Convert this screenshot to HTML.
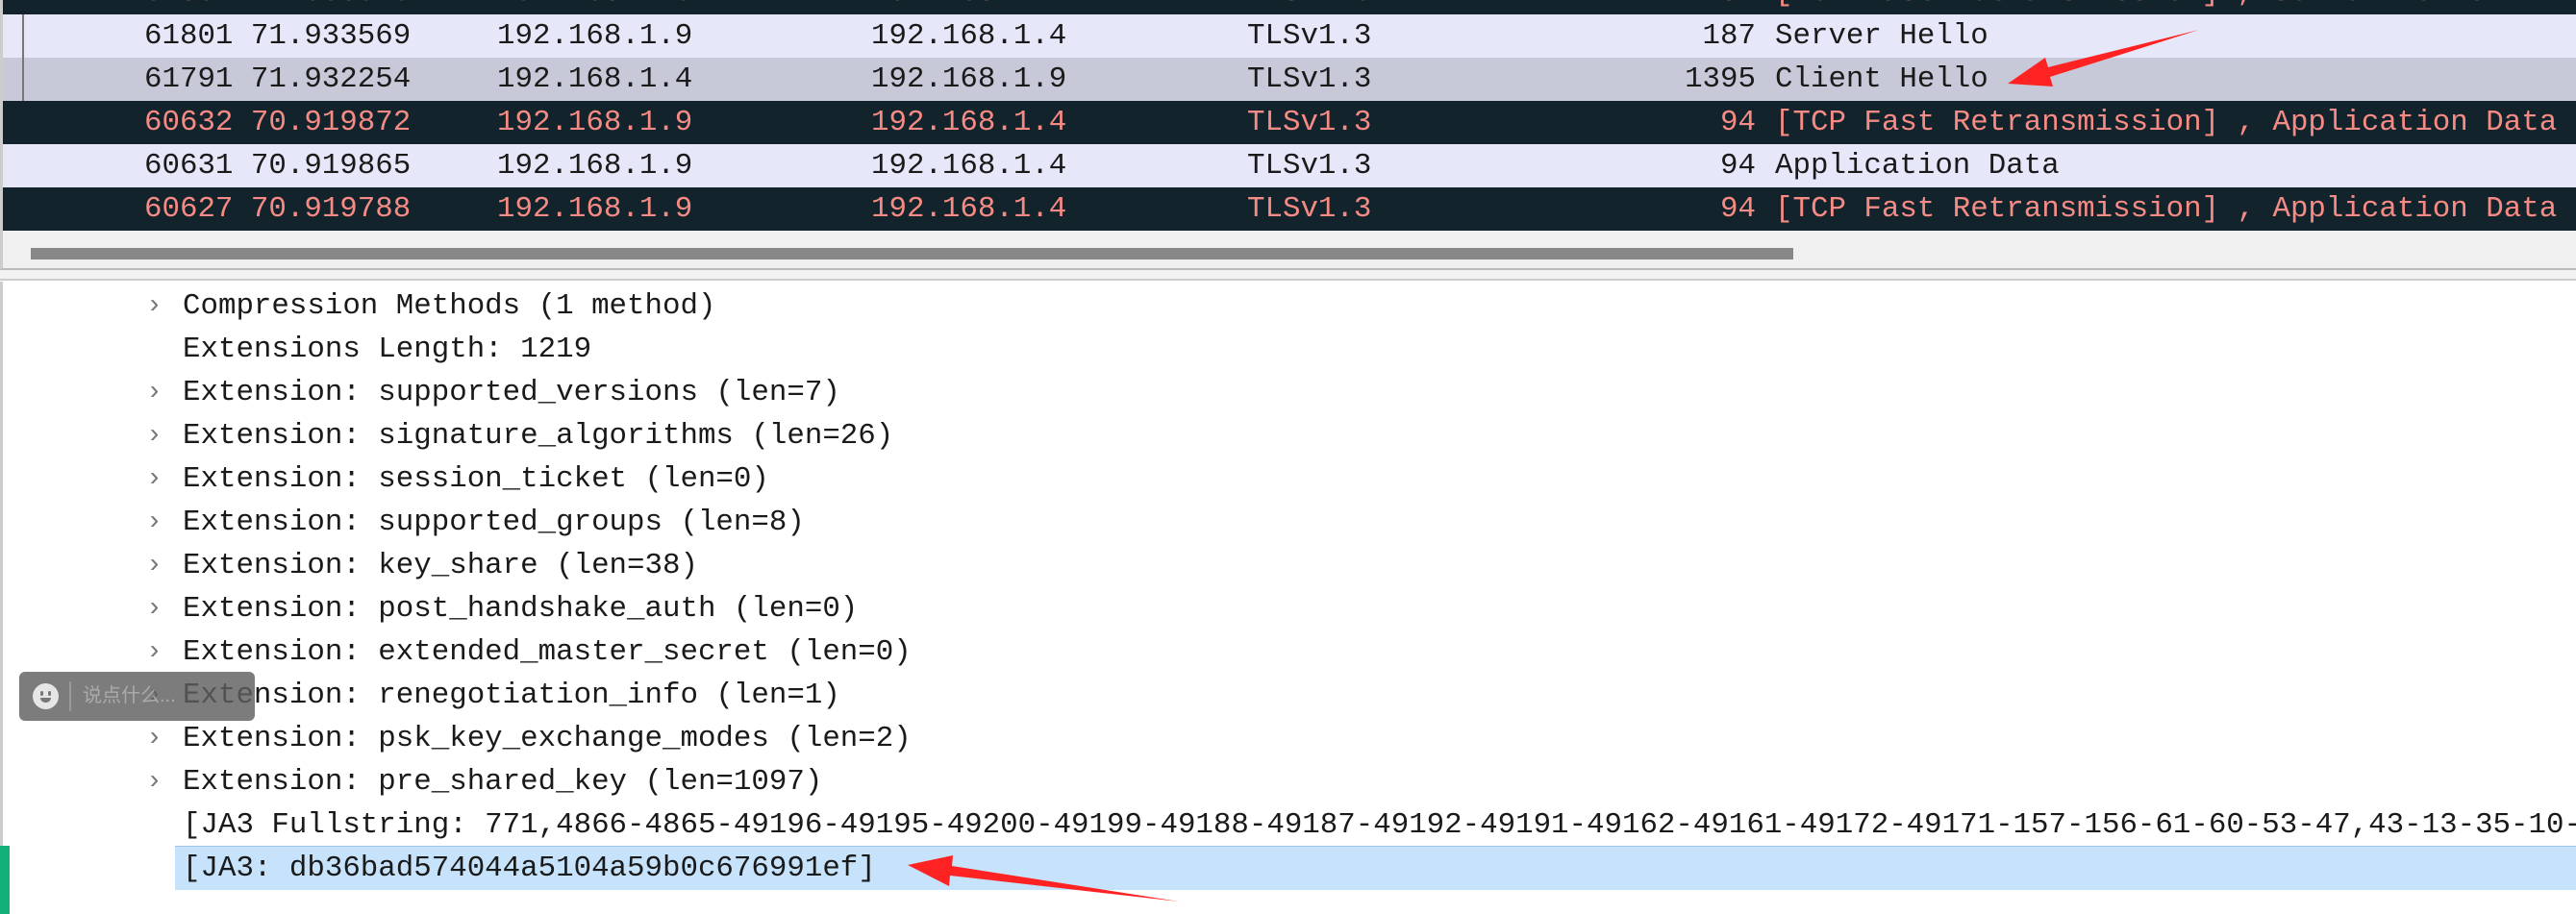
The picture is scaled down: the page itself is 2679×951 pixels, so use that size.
<!DOCTYPE html>
<html><head><meta charset="utf-8">
<style>
html,body{margin:0;padding:0;}
body{width:2679px;height:951px;position:relative;overflow:hidden;background:#fff;font-family:"Liberation Mono","DejaVu Sans Mono",monospace;font-size:30.8px;color:#1a1a1a;}
.row{position:absolute;left:3px;right:0;height:45px;line-height:45px;white-space:pre;overflow:hidden;}
.row span{position:absolute;top:0;}
.dark{background:#13232c;color:#f58b84;}
.light{background:#e6e8fa;}
.sel{background:#c8c9d8;}
.c1{left:147px}.c2{left:253px}.c3{left:514px}.c4{left:903px}.c5{left:1294px}
.c6{right:853px;text-align:right}.c7{left:1843px}
.line{position:absolute;left:0;right:0;height:45px;line-height:45px;white-space:pre;overflow:hidden;}
.line .arr{position:absolute;left:152px;color:#777;font-size:28px;}
.line .t{position:absolute;left:190px;}
</style></head>
<body>
<div style="position:absolute;left:0;top:0;width:2679px;height:281px;background:#f0f0f0;border-left:3px solid #ccc;box-sizing:border-box;border-bottom:2px solid #bbb;">
</div>
<div class="row dark" style="top:-30px"><span class="c1">61802 71.933579</span><span class="c3">192.168.1.9</span><span class="c4">192.168.1.4</span><span class="c5">TLSv1.3</span><span class="c6">187</span><span class="c7">[TCP Fast Retransmission] , Server Hello</span></div>
<div class="row light" style="top:15px"><span class="c1">61801 71.933569</span><span class="c3">192.168.1.9</span><span class="c4">192.168.1.4</span><span class="c5">TLSv1.3</span><span class="c6">187</span><span class="c7">Server Hello</span></div>
<div class="row sel" style="top:60px"><span class="c1">61791 71.932254</span><span class="c3">192.168.1.4</span><span class="c4">192.168.1.9</span><span class="c5">TLSv1.3</span><span class="c6">1395</span><span class="c7">Client Hello</span></div>
<div class="row dark" style="top:105px"><span class="c1">60632 70.919872</span><span class="c3">192.168.1.9</span><span class="c4">192.168.1.4</span><span class="c5">TLSv1.3</span><span class="c6">94</span><span class="c7">[TCP Fast Retransmission] , Application Data</span></div>
<div class="row light" style="top:150px"><span class="c1">60631 70.919865</span><span class="c3">192.168.1.9</span><span class="c4">192.168.1.4</span><span class="c5">TLSv1.3</span><span class="c6">94</span><span class="c7">Application Data</span></div>
<div class="row dark" style="top:195px"><span class="c1">60627 70.919788</span><span class="c3">192.168.1.9</span><span class="c4">192.168.1.4</span><span class="c5">TLSv1.3</span><span class="c6">94</span><span class="c7">[TCP Fast Retransmission] , Application Data</span></div>
<div style="position:absolute;left:23px;top:15px;width:2px;height:90px;background:#777;"></div>
<div style="position:absolute;left:32px;top:258px;width:1833px;height:12px;background:#888;"></div>
<div style="position:absolute;left:0;top:281px;width:2679px;height:11px;background:#f2f2f2;border-bottom:2px solid #ccc;box-sizing:border-box;"></div>

<div style="position:absolute;left:0;top:293px;width:2679px;height:658px;border-left:3px solid #ccc;box-sizing:border-box;"></div>
<div class="line" style="top:296px"><span class="arr">›</span><span class="t">Compression Methods (1 method)</span></div>
<div class="line" style="top:341px"><span class="t">Extensions Length: 1219</span></div>
<div class="line" style="top:386px"><span class="arr">›</span><span class="t">Extension: supported_versions (len=7)</span></div>
<div class="line" style="top:431px"><span class="arr">›</span><span class="t">Extension: signature_algorithms (len=26)</span></div>
<div class="line" style="top:476px"><span class="arr">›</span><span class="t">Extension: session_ticket (len=0)</span></div>
<div class="line" style="top:521px"><span class="arr">›</span><span class="t">Extension: supported_groups (len=8)</span></div>
<div class="line" style="top:566px"><span class="arr">›</span><span class="t">Extension: key_share (len=38)</span></div>
<div class="line" style="top:611px"><span class="arr">›</span><span class="t">Extension: post_handshake_auth (len=0)</span></div>
<div class="line" style="top:656px"><span class="arr">›</span><span class="t">Extension: extended_master_secret (len=0)</span></div>
<div class="line" style="top:701px"><span class="arr">›</span><span class="t">Extension: renegotiation_info (len=1)</span></div>
<div class="line" style="top:746px"><span class="arr">›</span><span class="t">Extension: psk_key_exchange_modes (len=2)</span></div>
<div class="line" style="top:791px"><span class="arr">›</span><span class="t">Extension: pre_shared_key (len=1097)</span></div>
<div class="line" style="top:836px"><span class="t">[JA3 Fullstring: 771,4866-4865-49196-49195-49200-49199-49188-49187-49192-49191-49162-49161-49172-49171-157-156-61-60-53-47,43-13-35-10-11-51-49-23</span></div>
<div style="position:absolute;left:182px;top:880px;right:0;height:45px;background:#c6e3fb;border-top:1px solid #9fc6ea;"></div>
<div class="line" style="top:881px"><span class="t">[JA3: db36bad574044a5104a59b0c676991ef]</span></div>
<div style="position:absolute;left:0;top:880px;width:10px;height:71px;background:#13b07a;"></div>

<div style="position:absolute;left:20px;top:699px;width:245px;height:51px;background:rgba(95,95,95,0.82);border-radius:6px;">
  <div style="position:absolute;left:14px;top:12px;width:27px;height:27px;border-radius:50%;background:#e6e6e6;">
    <div style="position:absolute;left:8px;top:8px;width:3px;height:5px;background:#777;border-radius:2px;"></div>
    <div style="position:absolute;left:16px;top:8px;width:3px;height:5px;background:#777;border-radius:2px;"></div>
    <div style="position:absolute;left:8px;top:15px;width:11px;height:5px;background:#777;border-radius:0 0 6px 6px;"></div>
  </div>
  <div style="position:absolute;left:52px;top:10px;width:2px;height:31px;background:#999;"></div>
  <div style="position:absolute;left:66px;top:0;line-height:51px;font-family:'Liberation Sans','Noto Sans CJK SC',sans-serif;font-size:20px;color:#aaa;">说点什么...</div>
</div>

<svg width="2679" height="951" style="position:absolute;left:0;top:0;pointer-events:none">
  <polygon points="2088,87 2135,90 2132,80 2287,31 2130,70 2127,60" fill="#f22"/>
  <polygon points="944,900 991,890 990,901 1226,938 988,911 987,922" fill="#f22"/>
</svg>
</body></html>
